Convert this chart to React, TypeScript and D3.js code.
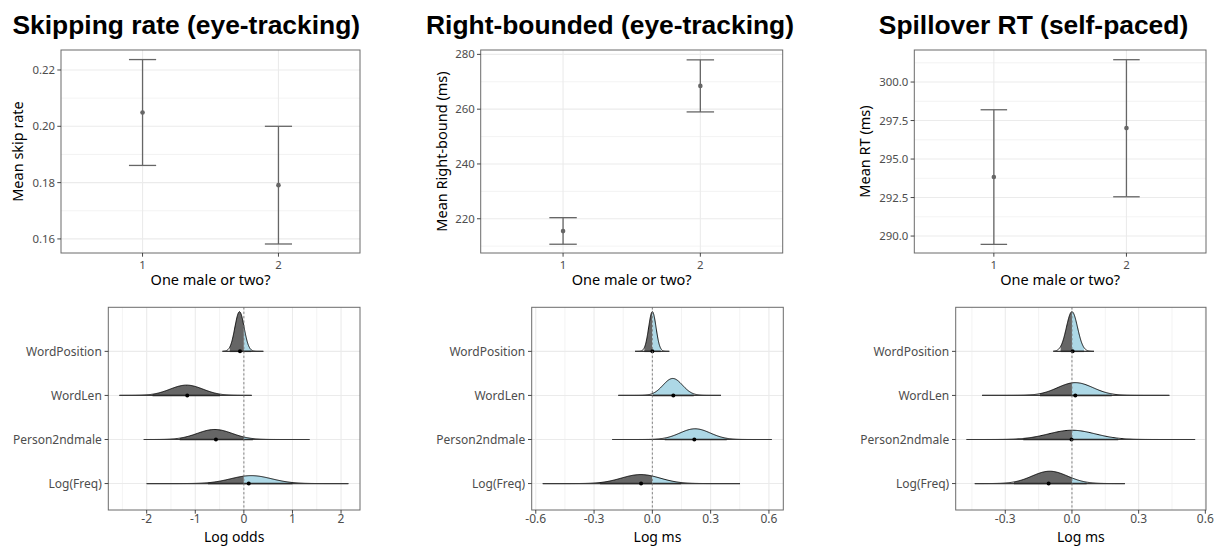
import React from "react";
import * as d3 from "d3";

const W = 1215;
const H = 546;

// ---------- top row data ----------
const conditions = ["1", "2"];
const skipMean = [0.2049, 0.1791];
const skipLo = [0.1861, 0.1582];
const skipHi = [0.2237, 0.2];
const skipTicks = [0.16, 0.18, 0.2, 0.22];

const rbMean = [215.5, 268.5];
const rbLo = [210.7, 259.0];
const rbHi = [220.4, 278.0];
const rbTicks = [220, 240, 260, 280];

const spMean = [293.83, 297.01];
const spLo = [289.46, 292.55];
const spHi = [298.2, 301.45];
const spTicks = [290, 292.5, 295, 297.5, 300];

const titles = ["Skipping rate (eye-tracking)", "Right-bounded (eye-tracking)", "Spillover RT (self-paced)"];
const yTitles = ["Mean skip rate", "Mean Right-bound (ms)", "Mean RT (ms)"];
const xTitleTop = "One male or two?";
const xTitlesBottom = ["Log odds", "Log ms", "Log ms"];

// ---------- bottom row data ----------
const terms = ["Log(Freq)", "Person2ndmale", "WordLen", "WordPosition"];
type Row = { median: number; lo: number; hi: number; min: number; max: number; mode: number; sd: number; peak: number };

const skipRows: Row[] = [
  { median: 0.1, lo: -0.74, hi: 1.0, min: -2.0, max: 2.15, mode: 0.15, sd: 0.42, peak: 0.18 },
  { median: -0.575, lo: -1.32, hi: 0.185, min: -2.06, max: 1.35, mode: -0.6, sd: 0.36, peak: 0.227 },
  { median: -1.165, lo: -1.88, hi: -0.49, min: -2.56, max: 0.16, mode: -1.18, sd: 0.34, peak: 0.234 },
  { median: -0.08, lo: -0.29, hi: 0.15, min: -0.44, max: 0.4, mode: -0.09, sd: 0.095, peak: 0.9 },
];
const rbRows: Row[] = [
  { median: -0.058, lo: -0.269, hi: 0.148, min: -0.564, max: 0.451, mode: -0.06, sd: 0.1, peak: 0.204 },
  { median: 0.216, lo: 0.064, hi: 0.383, min: -0.206, max: 0.614, mode: 0.22, sd: 0.078, peak: 0.243 },
  { median: 0.108, lo: 0.002, hi: 0.213, min: -0.175, max: 0.353, mode: 0.105, sd: 0.05, peak: 0.385 },
  { median: 0.0, lo: -0.041, hi: 0.043, min: -0.089, max: 0.087, mode: 0.0, sd: 0.019, peak: 0.9 },
];
const spRows: Row[] = [
  { median: -0.105, lo: -0.261, hi: 0.066, min: -0.437, max: 0.238, mode: -0.1, sd: 0.08, peak: 0.28 },
  { median: -0.002, lo: -0.219, hi: 0.208, min: -0.474, max: 0.554, mode: 0.0, sd: 0.105, peak: 0.21 },
  { median: 0.015, lo: -0.144, hi: 0.179, min: -0.404, max: 0.438, mode: 0.015, sd: 0.08, peak: 0.29 },
  { median: 0.003, lo: -0.051, hi: 0.054, min: -0.084, max: 0.099, mode: 0.0, sd: 0.025, peak: 0.9 },
];
const logOddsTicks = [-2, -1, 0, 1, 2];
const logMsTicks2 = [-0.6, -0.3, 0, 0.3, 0.6];
const logMsTicks3 = [-0.3, 0, 0.3, 0.6];

const AXIS_FONT = "'Noto Sans', 'Open Sans', sans-serif";
const TITLE_FONT = "'Liberation Sans', Arial, sans-serif";
const GRID = "#ebebeb";
const BORDER = "#6b6b6b";
const TICKTXT = "#4d4d4d";

function minorOf(ticks: number[], lo: number, hi: number) {
  const step = ticks[1] - ticks[0];
  const out: number[] = [];
  for (let i = -1; i < ticks.length; i++) {
    const v = ticks[0] + step * (i + 0.5);
    if (v > lo && v < hi) out.push(v);
  }
  return out;
}

type TopProps = {
  x0: number; x1: number; y0: number; y1: number;
  yDomain: [number, number]; ticks: number[]; fmt: (v: number) => string;
  mean: number[]; lo: number[]; hi: number[];
  title: string; titleX: number; yTitle: string; yTitleX: number;
};

function TopPanel(p: TopProps) {
  const x = d3.scaleLinear().domain([0.4, 2.6]).range([p.x0, p.x1]);
  const y = d3.scaleLinear().domain(p.yDomain).range([p.y1, p.y0]);
  const minor = minorOf(p.ticks, p.yDomain[0], p.yDomain[1]);
  const cx = (p.x0 + p.x1) / 2;
  const col = "#666666";
  return (
    <g>
      <text x={p.titleX} y={34} textAnchor="middle" fontFamily={TITLE_FONT} fontWeight="bold" fontSize={26.4} fill="#000">{p.title}</text>
      <rect x={p.x0} y={p.y0} width={p.x1 - p.x0} height={p.y1 - p.y0} fill="#fff" />
      {minor.map((v) => (
        <line key={"m" + v} x1={p.x0} x2={p.x1} y1={y(v)} y2={y(v)} stroke={GRID} strokeWidth={0.6} />
      ))}
      {p.ticks.map((v) => (
        <line key={"g" + v} x1={p.x0} x2={p.x1} y1={y(v)} y2={y(v)} stroke={GRID} strokeWidth={1.1} />
      ))}
      {conditions.map((c, i) => (
        <line key={"v" + c} x1={x(i + 1)} x2={x(i + 1)} y1={p.y0} y2={p.y1} stroke={GRID} strokeWidth={1.1} />
      ))}
      {conditions.map((c, i) => {
        const xc = x(i + 1);
        const hw = x(1.1) - x(1);
        return (
          <g key={"e" + c}>
            <line x1={xc} x2={xc} y1={y(p.lo[i])} y2={y(p.hi[i])} stroke={col} strokeWidth={1.3} />
            <line x1={xc - hw} x2={xc + hw} y1={y(p.lo[i])} y2={y(p.lo[i])} stroke={col} strokeWidth={1.3} />
            <line x1={xc - hw} x2={xc + hw} y1={y(p.hi[i])} y2={y(p.hi[i])} stroke={col} strokeWidth={1.3} />
            <circle cx={xc} cy={y(p.mean[i])} r={2.3} fill={col} />
          </g>
        );
      })}
      <rect x={p.x0} y={p.y0} width={p.x1 - p.x0} height={p.y1 - p.y0} fill="none" stroke={BORDER} strokeWidth={1} />
      {p.ticks.map((v) => (
        <g key={"t" + v}>
          <line x1={p.x0 - 3.7} x2={p.x0} y1={y(v)} y2={y(v)} stroke="#333" strokeWidth={0.9} />
          <text x={p.x0 - 6} y={y(v) + 4} textAnchor="end" fontFamily={AXIS_FONT} fontSize={11.4} fill={TICKTXT}>{p.fmt(v)}</text>
        </g>
      ))}
      {conditions.map((c, i) => (
        <g key={"xt" + c}>
          <line x1={x(i + 1)} x2={x(i + 1)} y1={p.y1} y2={p.y1 + 3.7} stroke="#333" strokeWidth={0.9} />
          <text x={x(i + 1)} y={268.5} textAnchor="middle" fontFamily={AXIS_FONT} fontSize={11.4} fill={TICKTXT}>{c}</text>
        </g>
      ))}
      <text x={cx} y={285} textAnchor="middle" fontFamily={AXIS_FONT} fontSize={14.5} fill="#000">{xTitleTop}</text>
      <text transform={`translate(${p.yTitleX},${(p.y0 + p.y1) / 2}) rotate(-90)`} textAnchor="middle" dy="0.35em" fontFamily={AXIS_FONT} fontSize={14.5} fill="#000">{p.yTitle}</text>
    </g>
  );
}

type BottomProps = {
  x0: number; x1: number; y0: number; y1: number;
  xDomain: [number, number]; ticks: number[]; fmt: (v: number) => string;
  rows: Row[]; xTitle: string;
};

function BottomPanel(p: BottomProps) {
  const x = d3.scaleLinear().domain(p.xDomain).range([p.x0, p.x1]);
  const y = d3.scaleLinear().domain([0.4, 5.0]).range([p.y1, p.y0]);
  const minor = minorOf(p.ticks, p.xDomain[0], p.xDomain[1]);
  const cx = (p.x0 + p.x1) / 2;
  const dens = (r: Row, v: number) => r.peak * Math.exp(-0.5 * ((v - r.mode) / r.sd) ** 2);
  const samples = (a: number, b: number) => d3.range(0, 201).map((i) => a + ((b - a) * i) / 200);
  return (
    <g>
      <rect x={p.x0} y={p.y0} width={p.x1 - p.x0} height={p.y1 - p.y0} fill="#fff" />
      {minor.map((v) => (
        <line key={"m" + v} x1={x(v)} x2={x(v)} y1={p.y0} y2={p.y1} stroke={GRID} strokeWidth={0.6} />
      ))}
      {p.ticks.map((v) => (
        <line key={"g" + v} x1={x(v)} x2={x(v)} y1={p.y0} y2={p.y1} stroke={GRID} strokeWidth={1.1} />
      ))}
      {terms.map((t, i) => (
        <line key={"h" + t} x1={p.x0} x2={p.x1} y1={y(i + 1)} y2={y(i + 1)} stroke={GRID} strokeWidth={1.1} />
      ))}
      {p.rows.map((r, i) => {
        const base = i + 1;
        const area = d3.area<number>().x((v) => x(v)).y0(y(base)).y1((v) => y(base + dens(r, v)));
        const line = d3.line<number>().x((v) => x(v)).y((v) => y(base + dens(r, v)));
        const parts: { a: number; b: number; fill: string }[] = [];
        if (r.lo < 0) parts.push({ a: r.lo, b: Math.min(r.hi, 0), fill: "#666666" });
        if (r.hi > 0) parts.push({ a: Math.max(r.lo, 0), b: r.hi, fill: "#add8e6" });
        return (
          <g key={"d" + i}>
            {parts.map((pt, j) => (
              <path key={j} d={area(samples(pt.a, pt.b)) || ""} fill={pt.fill} stroke="none" />
            ))}
            <path d={line(samples(r.min, r.max)) || ""} fill="none" stroke="#000" strokeWidth={0.9} />
            <line x1={x(r.min)} x2={x(r.max)} y1={y(base)} y2={y(base)} stroke="#3a3a3a" strokeWidth={1.2} />
            <line x1={x(r.lo)} x2={x(r.hi)} y1={y(base)} y2={y(base)} stroke="#2a2a2a" strokeWidth={1.4} />
            <circle cx={x(r.median)} cy={y(base)} r={2} fill="#000" />
          </g>
        );
      })}
      <line x1={x(0)} x2={x(0)} y1={p.y0} y2={p.y1} stroke="#777" strokeWidth={0.9} strokeDasharray="2.2,2.2" />
      <rect x={p.x0} y={p.y0} width={p.x1 - p.x0} height={p.y1 - p.y0} fill="none" stroke={BORDER} strokeWidth={1} />
      {terms.map((t, i) => (
        <g key={"yt" + t}>
          <line x1={p.x0 - 3.7} x2={p.x0} y1={y(i + 1)} y2={y(i + 1)} stroke="#333" strokeWidth={0.9} />
          <text x={p.x0 - 6.5} y={y(i + 1) + 4.2} textAnchor="end" fontFamily={AXIS_FONT} fontSize={12} fill={TICKTXT}>{t}</text>
        </g>
      ))}
      {p.ticks.map((v) => (
        <g key={"xt" + v}>
          <line x1={x(v)} x2={x(v)} y1={p.y1} y2={p.y1 + 3.7} stroke="#333" strokeWidth={0.9} />
          <text x={x(v)} y={523} textAnchor="middle" fontFamily={AXIS_FONT} fontSize={12} fill={TICKTXT}>{p.fmt(v)}</text>
        </g>
      ))}
      <text x={cx} y={541.5} textAnchor="middle" fontFamily={AXIS_FONT} fontSize={14} fill="#000">{p.xTitle}</text>
    </g>
  );
}

export default function App() {
  const f2 = d3.format(".2f");
  const f0 = d3.format("d");
  const f1 = d3.format(".1f");
  const fo = (v: number) => (v === 0 ? "0" : d3.format("d")(v)).replace("−", "-");
  const fm = (v: number) => f1(v).replace("−", "-");
  return (
    <svg width={W} height={H} style={{ position: "absolute", left: 0, top: 0, background: "#fff" }}>
      <rect x={0} y={0} width={W} height={H} fill="#fff" />
      <TopPanel x0={61} x1={360} y0={50} y1={253} yDomain={[0.155, 0.2271]} ticks={skipTicks} fmt={f2}
        mean={skipMean} lo={skipLo} hi={skipHi} title={titles[0]} titleX={186.3} yTitle={yTitles[0]} yTitleX={18.3} />
      <TopPanel x0={480.7} x1={782.7} y0={50} y1={253} yDomain={[207.5, 281.6]} ticks={rbTicks} fmt={f0}
        mean={rbMean} lo={rbLo} hi={rbHi} title={titles[1]} titleX={610} yTitle={yTitles[1]} yTitleX={441.7} />
      <TopPanel x0={914.3} x1={1206} y0={50} y1={253} yDomain={[288.9, 302.08]} ticks={spTicks} fmt={f1}
        mean={spMean} lo={spLo} hi={spHi} title={titles[2]} titleX={1033.5} yTitle={yTitles[2]} yTitleX={865} />
      <BottomPanel x0={108.3} x1={360} y0={307.3} y1={510} xDomain={[-2.79, 2.39]} ticks={logOddsTicks} fmt={fo}
        rows={skipRows} xTitle={xTitlesBottom[0]} />
      <BottomPanel x0={531.7} x1={783.3} y0={307.3} y1={510} xDomain={[-0.621, 0.674]} ticks={logMsTicks2} fmt={fm}
        rows={rbRows} xTitle={xTitlesBottom[1]} />
      <BottomPanel x0={955.7} x1={1206} y0={307.3} y1={510} xDomain={[-0.523, 0.603]} ticks={logMsTicks3} fmt={fm}
        rows={spRows} xTitle={xTitlesBottom[2]} />
    </svg>
  );
}
